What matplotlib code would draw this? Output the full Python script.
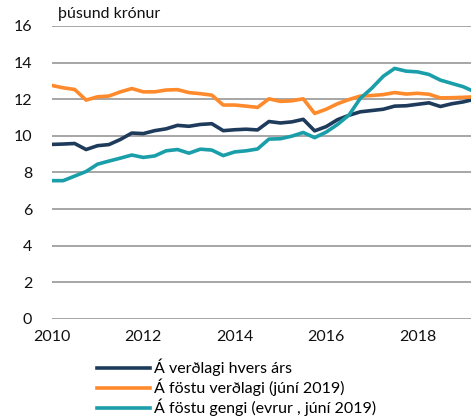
import matplotlib
matplotlib.use("Agg")
import matplotlib.pyplot as plt
import numpy as np

# ── Data (quarterly, 2010 Q1 – 2019 Q2) ──────────────────────────────
quarters = 2010 + np.arange(38) / 4

current_prices = [
    9.53, 9.55, 9.58, 9.25, 9.46, 9.52, 9.80, 10.15, 10.12, 10.28,
    10.38, 10.57, 10.52, 10.62, 10.66, 10.28, 10.33, 10.36, 10.32, 10.78,
    10.70, 10.76, 10.90, 10.27, 10.50, 10.88, 11.12, 11.31, 11.38, 11.45,
    11.62, 11.64, 11.72, 11.80, 11.60, 11.75, 11.85, 12.00,
]
fixed_prices = [
    12.75, 12.62, 12.53, 11.95, 12.13, 12.17, 12.40, 12.58, 12.40, 12.40,
    12.50, 12.52, 12.36, 12.30, 12.22, 11.68, 11.68, 11.62, 11.55, 12.02,
    11.88, 11.91, 12.02, 11.22, 11.45, 11.75, 11.98, 12.17, 12.20, 12.25,
    12.36, 12.28, 12.32, 12.27, 12.07, 12.08, 12.10, 12.13,
]
fixed_fx = [
    7.55, 7.55, 7.80, 8.05, 8.45, 8.62, 8.78, 8.95, 8.82, 8.90,
    9.18, 9.25, 9.05, 9.27, 9.22, 8.92, 9.12, 9.18, 9.28, 9.82,
    9.84, 9.98, 10.18, 9.90, 10.20, 10.62, 11.13, 12.05, 12.60, 13.25,
    13.68, 13.53, 13.49, 13.35, 13.04, 12.86, 12.68, 12.40,
]

series = [
    ("Á verðlagi hvers árs", current_prices, "#1F3B5C"),
    ("Á föstu verðlagi (júní 2019)", fixed_prices, "#FF8A2C"),
    ("Á föstu gengi (evrur , júní 2019)", fixed_fx, "#1A9FAA"),
]

plt.rcParams["font.family"] = ["Lato", "DejaVu Sans"]

fig = plt.figure(figsize=(4.71, 4.18), dpi=100)
ax = fig.add_axes([0.110, 0.237, 0.89, 0.701])

for label, vals, color in series:
    ax.plot(quarters, vals, color=color, lw=2.6, label=label,
            solid_joinstyle="round")

ax.set_xlim(2010, 2019.17)
ax.set_ylim(0, 16)
ax.set_yticks(range(0, 17, 2))
ax.set_xticks(range(2010, 2019, 2))
ax.yaxis.grid(True, color="#A6A6A6", lw=1.4)
ax.set_axisbelow(True)
ax.tick_params(length=0, labelsize=11.5, colors="#111111")
ax.tick_params(axis="y", pad=14)
ax.tick_params(axis="x", pad=8)
for spine in ax.spines.values():
    spine.set_visible(False)

fig.text(58 / 471, 1 - 14 / 418, "þúsund krónur", fontsize=11.5, va="center",
         ha="left", color="#111111")

ax.legend(loc="upper left", bbox_to_anchor=(97 / 471, 1 - 359 / 418),
          bbox_transform=fig.transFigure, frameon=False, fontsize=11.5,
          handlelength=3.3, handletextpad=0.3, labelspacing=0.15,
          borderaxespad=0, borderpad=0)

fig.savefig("out.png", dpi=100, facecolor="white")
